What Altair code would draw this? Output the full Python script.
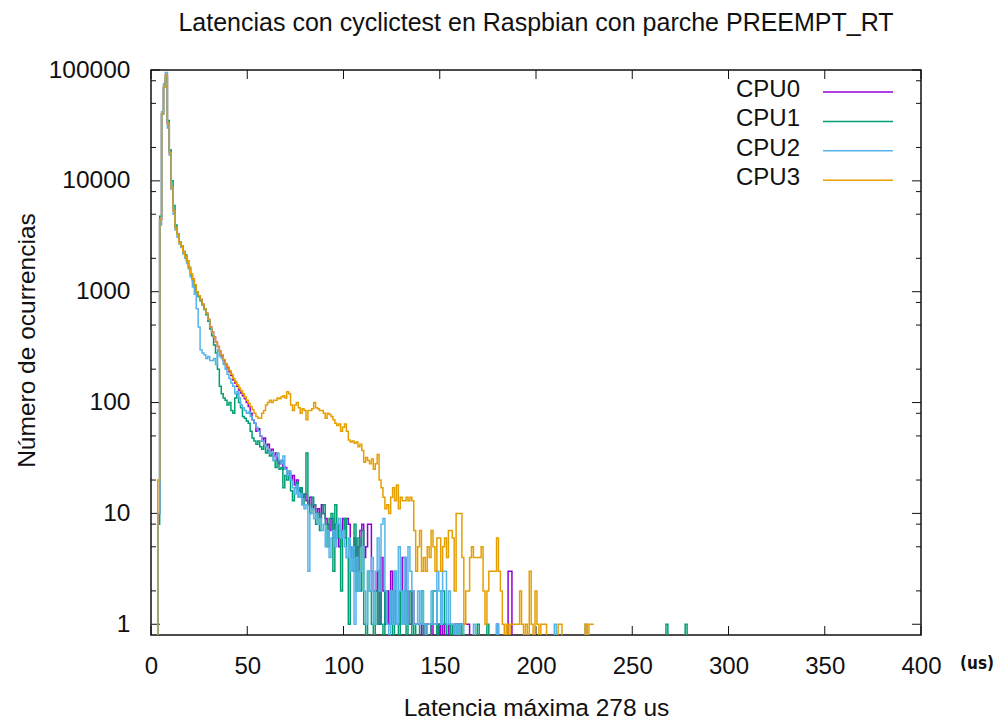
import altair as alt
import pandas as pd

cpus = ["CPU0", "CPU1", "CPU2", "CPU3"]
colors = ["#9400d3", "#009e73", "#56b4e9", "#e69f00"]

# counts per microsecond of latency, index = latency in us (starting at 0)
cpu0 = [0, 0, 0, 0, 10, 4500, 40000, 70000, 90000, 33000,
        18000, 8500, 5400, 3800, 3300, 2800, 2600, 2300, 2100, 1900,
        1650, 1450, 1300, 1150, 1000, 920, 850, 770, 700, 640,
        560, 480, 430, 390, 350, 320, 290, 265, 240, 220,
        205, 190, 175, 160, 150, 140, 130, 122, 115, 108,
        100, 92, 80, 70, 65, 55, 58, 50, 45, 48,
        40, 42, 36, 38, 33, 35, 30, 28, 30, 25,
        26, 22, 24, 20, 22, 18, 20, 16, 17, 14,
        15, 13, 12, 14, 11, 12, 10, 11, 9, 12,
        10, 9, 8, 7, 9, 6, 8, 6, 5, 7,
        9, 6, 9, 8, 5, 4, 6, 3, 5, 7,
        8, 4, 5, 8, 8, 3, 2, 2, 3, 1,
        4, 2, 1, 2, 1, 3, 1, 2, 1, 1,
        2, 4, 4, 2, 1, 1, 2, 1, 1, 1,
        1, 0, 1, 0, 1, 1, 0, 1, 1, 0,
        1, 0, 1, 0, 0, 1, 0, 0, 1, 1,
        1, 1, 1, 1, 1, 1, 0, 0, 0, 0,
        0, 0, 0, 0, 0, 0, 0, 0, 0, 0,
        1, 0, 0, 0, 0, 0, 3, 3, 0, 0,
        0, 0, 0, 0, 0, 0, 0, 0, 0, 0]

cpu1 = [0, 0, 0, 0, 8, 4800, 40000, 70000, 85000, 35000,
        19000, 10000, 6000, 4000, 3300, 2800, 2600, 2300, 2150, 1900,
        1650, 1400, 1250, 1100, 980, 900, 830, 760, 690, 620,
        540, 460, 400, 330, 280, 200, 140, 120, 110, 105,
        95, 100, 85, 80, 110, 120, 100, 90, 75, 72,
        68, 65, 55, 48, 45, 42, 45, 40, 38, 42,
        35, 37, 33, 35, 30, 26, 30, 25, 26, 17,
        22, 20, 23, 16, 13, 17, 19, 14, 17, 12,
        15, 35, 12, 10, 14, 12, 8, 10, 7, 10,
        12, 8, 5, 9, 10, 3, 12, 6, 8, 2,
        7, 9, 4, 1, 5, 3, 8, 2, 6, 2,
        7, 1, 0, 3, 2, 1, 0, 2, 1, 3,
        1, 0, 2, 1, 1, 2, 0, 3, 1, 0,
        2, 1, 2, 0, 1, 2, 0, 1, 0, 0,
        1, 2, 0, 1, 0, 0, 1, 2, 2, 0,
        1, 2, 2, 1, 0, 0, 1, 0, 0, 1,
        0, 1, 0, 0, 0, 0, 0, 0, 0, 0,
        1, 0, 0, 0, 0, 1, 0, 0, 0, 0,
        0, 0, 0, 0, 0, 0, 0, 0, 0, 0,
        0, 0, 0, 0, 0, 0, 0, 0, 0, 0,
        0, 0, 0, 0, 0, 0, 0, 0, 0, 0,
        0, 0, 0, 0, 0, 0, 0, 0, 0, 0,
        0, 0, 0, 0, 0, 0, 0, 0, 0, 0,
        0, 0, 0, 0, 0, 0, 0, 0, 0, 0,
        0, 0, 0, 0, 0, 0, 0, 0, 0, 0,
        0, 0, 0, 0, 0, 0, 0, 0, 0, 0,
        0, 0, 0, 0, 0, 0, 0, 0, 1, 0,
        0, 0, 0, 0, 0, 0, 0, 0, 1, 0]

cpu2 = [0, 0, 0, 0, 10, 4000, 42000, 75000, 95000, 30000,
        17000, 8500, 5000, 3600, 3100, 2700, 2500, 2200, 2000, 1800,
        1600, 1350, 1100, 950, 700, 480, 300, 280, 270, 250,
        260, 240, 240, 250, 220, 300, 260, 250, 220, 200,
        180, 165, 150, 140, 120, 125, 110, 95, 90, 85,
        80, 82, 75, 70, 65, 60, 55, 50, 45, 42,
        40, 38, 35, 36, 30, 33, 35, 30, 28, 33,
        25, 22, 24, 20, 17, 15, 18, 14, 15, 12,
        11, 12, 3, 10, 11, 9, 10, 8, 9, 7,
        8, 5, 7, 4, 6, 7, 5, 8, 9, 6,
        7, 5, 4, 6, 3, 5, 1, 4, 2, 3,
        5, 2, 1, 3, 2, 4, 1, 3, 6, 2,
        8, 9, 2, 1, 0, 2, 1, 3, 1, 5,
        2, 1, 4, 1, 5, 3, 2, 1, 1, 2,
        1, 2, 1, 0, 1, 1, 2, 1, 1, 3,
        2, 1, 3, 3, 1, 2, 1, 1, 0, 1,
        0, 1, 1, 0, 0, 0, 0, 0, 1, 0,
        0, 0, 0, 0, 0, 0, 0, 0, 0, 0,
        1, 0, 0, 0, 0, 0, 0, 0, 0, 0,
        0, 0, 0, 0, 0, 0, 0, 0, 0, 0,
        0, 0, 0, 0, 0, 0, 0, 0, 0, 0,
        1, 0, 0, 0, 0, 0, 0, 0, 0, 0,
        0, 0, 0, 0, 0, 0, 1, 0, 0, 0]

cpu3 = [0, 0, 0, 0, 20, 4500, 40000, 70000, 90000, 33000,
        18000, 8700, 5400, 3800, 3300, 2800, 2600, 2300, 2100, 1900,
        1650, 1450, 1300, 1150, 1000, 920, 850, 770, 700, 640,
        560, 480, 430, 390, 350, 320, 290, 270, 245, 225,
        210, 195, 180, 165, 155, 145, 135, 128, 120, 112,
        105, 98, 92, 86, 80, 75, 72, 72, 80, 85,
        95, 100, 105, 100, 105, 105, 110, 108, 112, 115,
        110, 125, 120, 95, 85, 95, 100, 90, 80, 88,
        85, 70, 85, 85, 88, 100, 90, 88, 85, 85,
        80, 72, 80, 78, 75, 70, 65, 62, 64, 55,
        60, 64, 55, 46, 44, 45, 43, 44, 40, 42,
        37, 29, 32, 30, 28, 31, 25, 28, 34, 20,
        17, 14, 11, 12, 10, 14, 17, 13, 18, 11,
        14, 13, 13, 14, 13, 14, 13, 7, 3, 5,
        7, 3, 4, 3, 5, 4, 7, 5, 3, 6,
        6, 3, 5, 6, 4, 7, 7, 6, 2, 10,
        10, 10, 4, 1, 2, 2, 4, 5, 4, 4,
        4, 4, 5, 2, 1, 2, 3, 3, 3, 3,
        6, 3, 2, 1, 0, 1, 0, 1, 1, 1,
        1, 1, 2, 1, 0, 1, 0, 3, 1, 0,
        2, 1, 0, 1, 1, 1, 0, 0, 0, 0,
        0, 0, 1, 1, 0, 0, 0, 0, 0, 0,
        0, 0, 0, 0, 0, 0, 1, 0, 1, 1, 1]

x_ticks = [0, 50, 100, 150, 200, 250, 300, 350, 400]
y_major = [1, 10, 100, 1000, 10000, 100000]
y_minor = [2, 5, 8, 20, 50, 80, 200, 500, 800, 2000, 5000, 8000,
           20000, 50000, 80000]

title_text = "Latencias con cyclictest en Raspbian con parche PREEMPT_RT"
x_title = "Latencia máxima 278 us"
y_title = "Número de ocurrencias"
unit_text = "(us)"

FONT = "Liberation Sans"
INK = "#111111"
W, H = 770, 565

rows = []
for name, counts in zip(cpus, [cpu0, cpu1, cpu2, cpu3]):
    for us, c in enumerate(counts):
        rows.append({"cpu": name, "us": us, "count": c})
df = pd.DataFrame(rows)

x_scale = alt.Scale(domain=[0, 400], nice=False, zero=False)
y_scale = alt.Scale(type="log", domain=[0.8, 100000], nice=False)

x_axis = alt.Axis(values=x_ticks, ticks=False, tickSize=0, domain=False, grid=False,
                  labelFont=FONT, labelFontSize=24, labelColor=INK, labelFlush=False,
                  labelBaseline="alphabetic", labelPadding=38, labelOverlap=False,
                  title=x_title, titleFont=FONT, titleFontSize=24.5, titleFontWeight="normal",
                  titleColor=INK, titleBaseline="alphabetic", titleY=80, titleX=W / 2,
                  titleAlign="center")
y_axis = alt.Axis(values=y_major, format="d", ticks=False, tickSize=0, domain=False, grid=False,
                  labelFont=FONT, labelFontSize=24.5, labelColor=INK, labelPadding=21,
                  labelOverlap=False, labelFlush=False,
                  title=y_title, titleFont=FONT, titleFontSize=24.5, titleFontWeight="normal",
                  titleColor=INK, titleAngle=-90, titleAlign="center", titleBaseline="middle",
                  titleX=-124, titleY=270)

layers = []
for name, col in zip(cpus, colors):
    layers.append(
        alt.Chart(df)
        .transform_filter(alt.datum.cpu == name)
        .transform_calculate(yv="max(datum.count, 0.5)")
        .mark_line(interpolate="step", color=col, strokeWidth=1.5, clip=True)
        .encode(x=alt.X("us:Q", scale=x_scale, axis=x_axis),
                y=alt.Y("yv:Q", scale=y_scale, axis=y_axis))
    )

ymaj_df = pd.DataFrame({"v": y_major})
ymin_df = pd.DataFrame({"v": y_minor})
xt_df = pd.DataFrame({"v": x_ticks})

def yticks(d, length):
    left = alt.Chart(d).mark_rule(color=INK, strokeWidth=1).encode(
        y=alt.Y("v:Q", scale=y_scale, axis=y_axis), x=alt.value(0), x2=alt.value(length))
    right = alt.Chart(d).mark_rule(color=INK, strokeWidth=1).encode(
        y=alt.Y("v:Q", scale=y_scale, axis=y_axis), x=alt.value(W), x2=alt.value(W - length))
    return [left, right]

tick_layers = yticks(ymaj_df, 9) + yticks(ymin_df, 5)
tick_layers.append(alt.Chart(xt_df).mark_rule(color=INK, strokeWidth=1).encode(
    x=alt.X("v:Q", scale=x_scale, axis=x_axis), y=alt.value(H), y2=alt.value(H - 9)))
tick_layers.append(alt.Chart(xt_df).mark_rule(color=INK, strokeWidth=1).encode(
    x=alt.X("v:Q", scale=x_scale, axis=x_axis), y=alt.value(0), y2=alt.value(9)))

legend_layers = []
for i, (name, col) in enumerate(zip(cpus, colors)):
    ld = pd.DataFrame({"label": [name]})
    legend_layers.append(alt.Chart(ld).mark_text(
        align="right", baseline="alphabetic", font=FONT, fontSize=24, color=INK
    ).encode(x=alt.value(649), y=alt.value(27 + 29.4 * i), text="label:N"))
    legend_layers.append(alt.Chart(ld).mark_rule(color=col, strokeWidth=1.5).encode(
        x=alt.value(672), x2=alt.value(742), y=alt.value(22 + 29.4 * i)))

unit_layer = alt.Chart(pd.DataFrame({"t": [unit_text]})).mark_text(
    align="center", baseline="alphabetic", font="DejaVu Sans Condensed",
    fontWeight="bold", fontSize=17, color=INK
).encode(x=alt.value(826), y=alt.value(599), text="t:N")

chart = alt.layer(*tick_layers, *layers, *legend_layers, unit_layer).properties(
    width=W, height=H,
    padding={"left": 151, "top": 70, "right": 74, "bottom": 85},
    autosize=alt.AutoSizeParams(type="none"),
    title=alt.TitleParams(text=title_text, font=FONT, fontSize=25, fontWeight="normal",
                          color=INK, anchor="middle", baseline="alphabetic", offset=1),
).configure_view(stroke=INK, strokeWidth=1.5)

chart.save("out.html", embed_options={"renderer": "svg", "actions": False})
